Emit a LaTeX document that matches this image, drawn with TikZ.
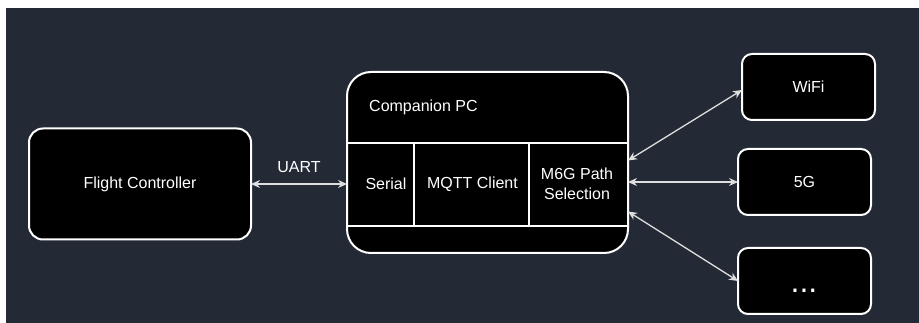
\documentclass[tikz,border=0pt]{standalone}
\usepackage{fontspec}
\setmainfont{Liberation Sans}
\usetikzlibrary{arrows.meta,calc}

\definecolor{bgdark}{RGB}{35,42,53}
\definecolor{wire}{RGB}{222,222,222}

\tikzset{
  block/.style={draw=white, line width=2pt, fill=black, rounded corners=14pt,
    inner sep=0pt, outer sep=0pt, text=white},
  lbl/.style={text=white, inner sep=0pt},
  link/.style={draw=wire, line width=1.3pt,
    {Stealth[length=9pt,width=8pt]}-{Stealth[length=9pt,width=8pt]}},
}

\begin{document}
\begin{tikzpicture}[x=1pt, y=-1pt, font=\fontsize{16}{20}\selectfont]
\fill[white] (0,0) rectangle (919,323);
\fill[bgdark] (6,8) rectangle (919,323);
\useasboundingbox (0,0) rectangle (919,323);

% flight controller
\node[block, minimum width=222pt, minimum height=111pt] (fc) at (140,184) {Flight Controller};

% companion pc with its three parts
\node[block, rounded corners=24pt, minimum width=281pt, minimum height=181pt] (pc) at (487.5,162.5) {};
\coordinate (rowtop) at (0,143);
\coordinate (rowbot) at (0,226);
\draw[white, line width=1.5pt] (pc.west |- rowtop) -- (pc.east |- rowtop);
\draw[white, line width=1.5pt] (pc.west |- rowbot) -- (pc.east |- rowbot);
\draw[white, line width=1.5pt] (414,143) -- (414,226);
\draw[white, line width=1.5pt] (529,143) -- (529,226);
\node[lbl, anchor=west] (pctitle) at (369,107) {Companion PC};
\node[lbl] (serial) at (386,184) {Serial};
\node[lbl] (mqtt) at (472.5,184) {MQTT Client};
\node[lbl, align=center] (sel) at (577,184) {M6G Path\\Selection};

% links
\node[block, rounded corners=10pt, minimum width=133pt, minimum height=66pt] (wifi) at (808.5,87) {WiFi};
\node[block, rounded corners=10pt, minimum width=133pt, minimum height=66pt] (fiveg) at (804.5,182) {5G};
\node[block, rounded corners=10pt, minimum width=133pt, minimum height=66pt] (more) at (804.5,281) {};
\node[lbl, font=\fontsize{32}{36}\selectfont] (dots) at (804,291) {...};

% connections
\draw[link] (fc.east) -- (pc.west |- fc) node[midway, above=11pt, lbl] (uart) {UART};
\draw[link] ([yshift=2pt]pc.east) -- ([yshift=-3pt]wifi.west);
\draw[link] (pc.east |- fiveg) -- (fiveg.west);
\draw[link] ([yshift=-49pt]pc.east) -- (more.west);
\end{tikzpicture}
\end{document}
